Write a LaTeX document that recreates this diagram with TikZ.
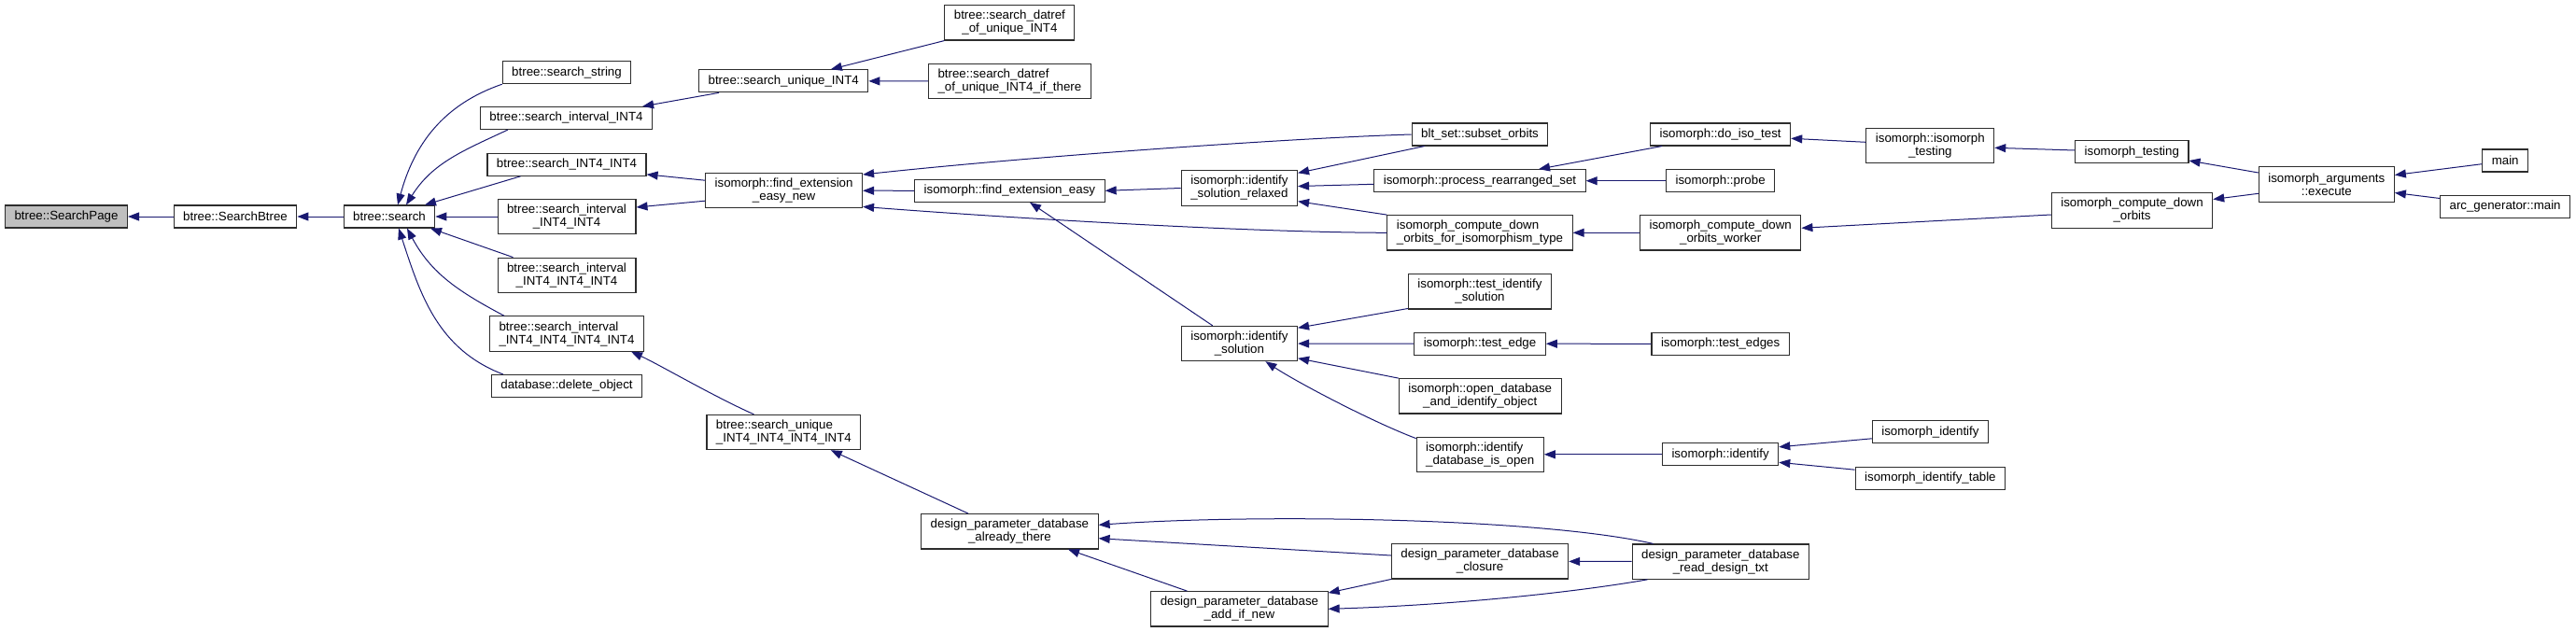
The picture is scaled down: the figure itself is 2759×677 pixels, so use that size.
\documentclass[tikz,border=0pt]{standalone}
\usepackage{fontspec}
\setmainfont{Liberation Sans}
\usetikzlibrary{arrows.meta}
\definecolor{cgEdge}{RGB}{25,25,112}
\definecolor{cgLine}{RGB}{45,45,45}
\definecolor{cgRoot}{RGB}{191,191,191}
\tikzset{
  fnbox/.style={
    draw=cgLine,
    line width=1.1pt,
    fill=white,
    align=center,
    inner xsep=10pt,
    inner ysep=0pt,
    minimum height=24pt,
    font=\fontsize{13.3}{14}\selectfont
  },
  fntwo/.style={
    fnbox,
    minimum height=37.3pt
  },
  fnroot/.style={
    fnbox,
    fill=cgRoot
  },
  fncall/.style={
    -{Triangle[length=12pt,width=9pt]},
    line width=1pt,
    draw=cgEdge
  }
}

\begin{document}
\begin{tikzpicture}[x=1pt, y=-1pt]
  \useasboundingbox (0,0) rectangle (2759,677);

  % btree side
  \node[fnroot] (searchpage) at (71,232) {btree::SearchPage};
  \node[fnbox] (searchbtree) at (252,232) {btree::SearchBtree};
  \node[fnbox] (search) at (417,232) {btree::search};
  \node[fnbox] (sstring) at (607,77.7) {btree::search\_string};
  \node[fnbox] (sintv) at (606.5,126.5) {btree::search\_interval\_INT4};
  \node[fnbox] (sint44) at (607,176.3) {btree::search\_INT4\_INT4};
  \node[fntwo] (sintv44) at (607,232) {btree::search\_interval\\\_INT4\_INT4};
  \node[fntwo] (sintv444) at (607,294.8) {btree::search\_interval\\\_INT4\_INT4\_INT4};
  \node[fntwo, align=left] (sintv4444) at (607,357.5) {btree::search\_interval\\\_INT4\_INT4\_INT4\_INT4};
  \node[fnbox] (delobj) at (607,413.5) {database::delete\_object};
  \node[fnbox] (suniq) at (839.2,86.8) {btree::search\_unique\_INT4};
  \node[fntwo] (datref) at (1081.4,24.4) {btree::search\_datref\\\_of\_unique\_INT4};
  \node[fntwo, align=left] (datrefthere) at (1081.4,87) {btree::search\_datref\\\_of\_unique\_INT4\_if\_there};
  \node[fntwo, align=left] (suniq4444) at (839.4,463) {btree::search\_unique\\\_INT4\_INT4\_INT4\_INT4};

  % isomorph side
  \node[fntwo] (fexnew) at (839.6,204.2) {isomorph::find\_extension\\\_easy\_new};
  \node[fnbox] (fex) at (1081.4,204.3) {isomorph::find\_extension\_easy};
  \node[fntwo] (idrelax) at (1327.4,201.5) {isomorph::identify\\\_solution\_relaxed};
  \node[fntwo] (idsol) at (1327.4,368) {isomorph::identify\\\_solution};
  \node[fnbox] (subset) at (1585,144) {blt\_set::subset\_orbits};
  \node[fnbox] (procset) at (1585,193.7) {isomorph::process\_rearranged\_set};
  \node[fntwo, align=left] (cdoft) at (1585,249.3) {isomorph\_compute\_down\\\_orbits\_for\_isomorphism\_type};
  \node[fntwo] (testidsol) at (1585,312.3) {isomorph::test\_identify\\\_solution};
  \node[fnbox] (testedge) at (1585,368.2) {isomorph::test\_edge};
  \node[fntwo] (opendb) at (1585.2,424.3) {isomorph::open\_database\\\_and\_identify\_object};
  \node[fntwo, align=left] (iddbopen) at (1585.2,486.8) {isomorph::identify\\\_database\_is\_open};
  \node[fnbox] (doiso) at (1842.6,144) {isomorph::do\_iso\_test};
  \node[fnbox] (probe) at (1842.6,193.7) {isomorph::probe};
  \node[fntwo] (cdworker) at (1842.7,249.3) {isomorph\_compute\_down\\\_orbits\_worker};
  \node[fnbox] (testedges) at (1842.6,368.3) {isomorph::test\_edges};
  \node[fnbox] (identify) at (1842.6,486.8) {isomorph::identify};
  \node[fntwo] (isotest) at (2067.3,156.1) {isomorph::isomorph\\\_testing};
  \node[fnbox] (isoident) at (2067.4,462.8) {isomorph\_identify};
  \node[fnbox] (isoidtable) at (2067.4,512.2) {isomorph\_identify\_table};
  \node[fnbox] (testing) at (2283.3,162.8) {isomorph\_testing};
  \node[fntwo] (cdorbits) at (2283.5,225.5) {isomorph\_compute\_down\\\_orbits};
  \node[fntwo] (execute) at (2491.8,197.5) {isomorph\_arguments\\::execute};
  \node[fnbox] (main) at (2683.2,172) {main};
  \node[fnbox] (arcmain) at (2683.1,221.5) {arc\_generator::main};

  % design parameter database
  \node[fntwo] (dpdthere) at (1081.4,569.3) {design\_parameter\_database\\\_already\_there};
  \node[fntwo] (dpdadd) at (1327.4,652.3) {design\_parameter\_database\\\_add\_if\_new};
  \node[fntwo] (dpdclos) at (1585,601.3) {design\_parameter\_database\\\_closure};
  \node[fntwo] (dpdread) at (1842.8,601.6) {design\_parameter\_database\\\_read\_design\_txt};

  % calls into btree::search
  \draw[fncall] (searchbtree) -- (searchpage);
  \draw[fncall] (search) -- (searchbtree);
  \draw[fncall] (sstring.south west) to[out=199,in=75] ([xshift=9pt]search.north);
  \draw[fncall] ([xshift=30pt]sintv.south west) to[out=205,in=58] ([xshift=18pt]search.north);
  \draw[fncall] ([xshift=36pt]sint44.south west) -- ([xshift=38pt]search.north);
  \draw[fncall] (sintv44) -- (search);
  \draw[fncall] ([xshift=17pt]sintv444.north west) -- ([xshift=44pt]search.south);
  \draw[fncall] ([xshift=16pt]sintv4444.north west) to[out=152,in=-62] ([xshift=19pt]search.south);
  \draw[fncall] ([xshift=13pt]delobj.north west) to[out=159,in=-72] ([xshift=10pt]search.south);

  \draw[fncall] ([xshift=22pt]suniq.south west) -- ([xshift=-11pt]sintv.north east);
  \draw[fncall] (datref.south west) -- ([xshift=50.6pt]suniq.north);
  \draw[fncall] (datrefthere) -- (suniq);
  \draw[fncall] ([yshift=11pt]fexnew.west) -- ([yshift=2pt]sint44.south east);
  \draw[fncall] ([yshift=-11pt]fexnew.west) -- ([yshift=10pt]sintv44.east);
  \draw[fncall] ([xshift=-32pt]suniq4444.north) .. controls (765,425) and (705,390) .. ([xshift=-14pt]sintv4444.south east);

  % isomorph calls
  \draw[fncall] (fex) -- (fexnew);
  \draw[fncall] (subset.west) .. controls (1380,148) and (1100,168) .. ([yshift=-2pt]fexnew.north east);
  \draw[fncall] (cdoft.west) .. controls (1330,249) and (1060,232) .. ([yshift=2pt]fexnew.south east);
  \draw[fncall] (idrelax.west) -- (fex.east);
  \draw[fncall] ([xshift=-28.7pt]idsol.north) -- ([xshift=21.6pt]fex.south);
  \draw[fncall] ([xshift=14pt]subset.south west) -- ([yshift=-3pt]idrelax.north east);
  \draw[fncall] ([yshift=-3.6pt]procset.west) -- ([yshift=2pt]idrelax.east);
  \draw[fncall] (cdoft.north west) -- ([yshift=5pt]idrelax.south east);
  \draw[fncall] ([xshift=13pt]doiso.south west) -- ([xshift=63pt]procset.north);
  \draw[fncall] (probe) -- (procset);
  \draw[fncall] ([yshift=3.8pt]isotest.west) -- ([yshift=-4.3pt]doiso.east);
  \draw[fncall] ([yshift=1.8pt]testing.west) -- ([yshift=-2.2pt]isotest.east);
  \draw[fncall] ([yshift=12.5pt]execute.west) -- ([yshift=3.3pt]testing.south east);
  \draw[fncall] ([yshift=-9.8pt]execute.west) -- ([yshift=12pt]cdorbits.east);
  \draw[fncall] ([yshift=-3.7pt]main.west) -- ([yshift=10pt]execute.east);
  \draw[fncall] ([yshift=9pt]arcmain.west) -- ([yshift=-9pt]execute.east);
  \draw[fncall] ([yshift=-4.5pt]cdorbits.west) -- ([yshift=5pt]cdworker.east);
  \draw[fncall] (cdworker) -- (cdoft);
  \draw[fncall] ([yshift=1pt]testidsol.south west) -- ([yshift=-2.4pt]idsol.north east);
  \draw[fncall] (testedge) -- (idsol);
  \draw[fncall] (opendb.north west) -- ([yshift=3.4pt]idsol.south east);
  \draw[fncall] ([yshift=-2pt]iddbopen.north west) .. controls (1470,452) and (1390,410) .. ([xshift=28pt]idsol.south);
  \draw[fncall] (testedges) -- (testedge);
  \draw[fncall] (identify) -- (iddbopen);
  \draw[fncall] ([yshift=-7pt]isoident.west) -- ([yshift=8pt]identify.east);
  \draw[fncall] ([yshift=9pt]isoidtable.west) -- ([yshift=-8.5pt]identify.east);

  % design parameter database calls
  \draw[fncall] ([xshift=-44.3pt]dpdthere.north) -- ([xshift=50.4pt]suniq4444.south);
  \draw[fncall] ([xshift=23pt]dpdread.north west) .. controls (1650,555) and (1350,550) .. ([yshift=7pt]dpdthere.east);
  \draw[fncall] ([yshift=6.3pt]dpdclos.west) -- ([yshift=-7.4pt]dpdthere.east);
  \draw[fncall] ([xshift=-56pt]dpdadd.north) -- ([xshift=62.6pt]dpdthere.south);
  \draw[fncall] (dpdclos.south west) -- ([yshift=-2pt]dpdadd.north east);
  \draw[fncall] ([xshift=17pt]dpdread.south west) .. controls (1690,634) and (1560,648) .. (dpdadd.east);
  \draw[fncall] (dpdread) -- (dpdclos);
\end{tikzpicture}
\end{document}
